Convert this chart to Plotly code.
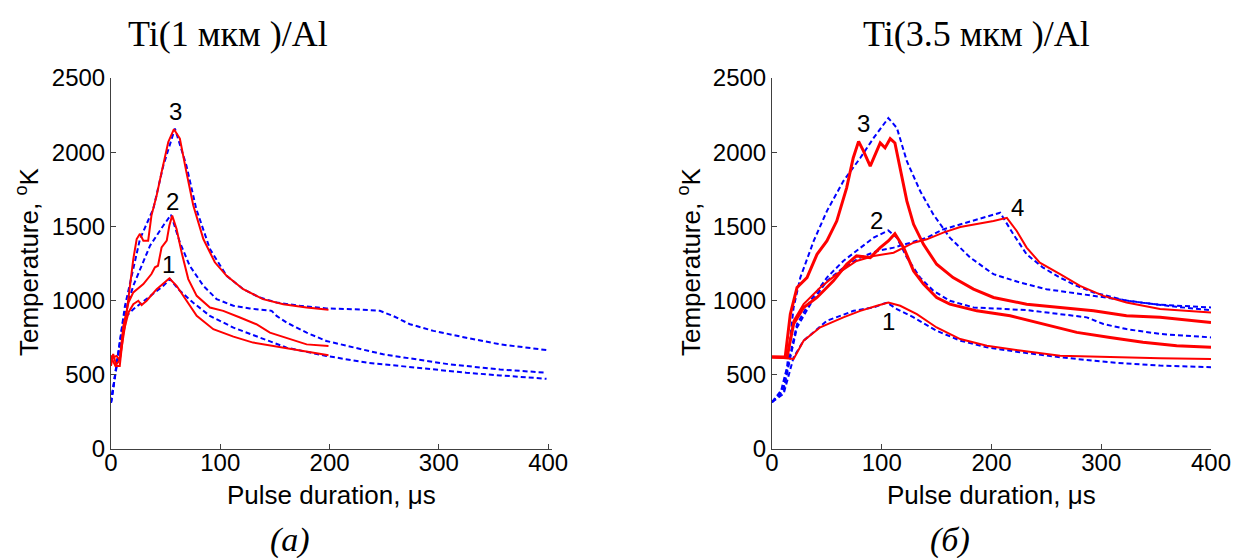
import plotly.graph_objects as go

# ---------------- Panel (a): Ti(1 мкм)/Al ----------------
a_b3_x = [0, 12.8, 26.5, 38.7, 47.9, 58.5, 69, 78, 90.5, 105.8, 121, 136, 151.5, 173, 197, 221.6, 246, 258, 273.5, 295, 325, 356, 398.5]
a_b3_y = [311, 965, 1415, 1618, 1910, 2160, 1910, 1618, 1348, 1167, 1077, 1021, 987, 965, 947, 942, 931, 897, 841, 796, 750, 705, 667]
a_b2_x = [0, 12.8, 20.4, 35.7, 47.9, 54.9, 63, 72, 84.5, 96.6, 112, 127, 147, 151.5, 160.7, 179, 197, 221.6, 249, 279.6, 310, 356, 398.5]
a_b2_y = [311, 920, 1100, 1370, 1506, 1578, 1393, 1235, 1100, 1010, 965, 947, 931, 897, 852, 784, 728, 683, 638, 604, 570, 536, 514]
a_b1_x = [0, 11.3, 20.4, 35.7, 47.9, 54, 63, 75, 90.5, 112, 136, 160.7, 197, 234, 279.6, 325, 356, 398.5]
a_b1_y = [311, 875, 942, 1032, 1100, 1145, 1066, 987, 897, 818, 750, 683, 627, 582, 548, 514, 496, 473]

a_r3_x = [0, 3, 5, 8, 12.8, 17.4, 20.4, 23.5, 26.5, 29.6, 34, 37, 41.8, 46.3, 52.4, 57.6, 63, 69, 75.3, 84.5, 95, 105.8, 121, 139, 157.6, 179, 199]
a_r3_y = [627, 620, 627, 600, 830, 1100, 1280, 1415, 1450, 1404, 1404, 1573, 1709, 1866, 2069, 2155, 2092, 1866, 1641, 1415, 1258, 1167, 1077, 1010, 976, 953, 938]
a_r2_x = [0, 4, 8, 11.3, 16, 20.4, 29.6, 37, 40.2, 43, 46.3, 51, 53.4, 56, 60, 64.6, 70.7, 78.4, 90.5, 102.7, 118, 133, 145.4, 160.7, 179, 199]
a_r2_y = [620, 560, 600, 830, 987, 1055, 1111, 1179, 1224, 1235, 1359, 1404, 1506, 1573, 1483, 1325, 1145, 1032, 953, 931, 886, 841, 784, 750, 705, 694]
a_r1_x = [0, 2, 5, 8, 11.3, 16, 20.4, 25, 28, 32.6, 41.8, 49.4, 53.4, 60, 69, 78.4, 93.6, 112, 130, 148.5, 173, 199]
a_r1_y = [560, 640, 560, 560, 784, 920, 976, 999, 970, 999, 1077, 1122, 1150, 1100, 999, 897, 807, 757, 717, 694, 660, 631]

# ---------------- Panel (б): Ti(3.5 мкм)/Al ----------------
b_b3_x = [0, 7.6, 13.7, 19.7, 25.8, 38, 50, 65, 80.4, 92.6, 106, 113.8, 122.9, 135, 147, 162, 180.6, 201.8, 226, 250, 277.7, 308, 338, 368.7, 400]
b_b3_y = [316, 372, 551, 954, 1155, 1402, 1603, 1805, 1961, 2096, 2230, 2163, 1939, 1738, 1581, 1424, 1290, 1178, 1122, 1077, 1048, 1015, 985, 958, 936]
b_b4_x = [0, 10.6, 16.7, 22.8, 35, 50, 65, 80.4, 95.6, 110.8, 126, 141, 156, 171.5, 186.6, 201.8, 207.9, 220, 232, 247, 262.5, 277.7, 293, 323, 353.6, 400]
b_b4_y = [316, 394, 618, 819, 976, 1133, 1222, 1290, 1334, 1357, 1390, 1424, 1480, 1514, 1547, 1581, 1592, 1446, 1312, 1222, 1155, 1099, 1055, 999, 972, 954]
b_b2_x = [0, 10.6, 16.7, 22.8, 35, 50, 65, 80.4, 92.6, 106, 113.8, 122.9, 135, 147, 162, 183.6, 207.9, 232, 262.5, 286.8, 302, 323, 353.6, 400]
b_b2_y = [316, 416, 640, 842, 999, 1155, 1267, 1357, 1424, 1473, 1424, 1290, 1155, 1066, 999, 954, 943, 936, 909, 887, 842, 808, 775, 752]
b_b1_x = [0, 10.6, 19.7, 28.8, 50, 74.4, 92.6, 104.7, 113.8, 129, 150, 171.5, 195.8, 226, 262.5, 308, 353.6, 400]
b_b1_y = [316, 372, 618, 730, 864, 931, 954, 987, 943, 887, 797, 730, 685, 652, 618, 584, 562, 551]

b_r1_x = [0, 19.7, 28.8, 44, 65, 80.4, 95.6, 106, 116.8, 132, 150, 171.5, 195.8, 226, 262.5, 308, 353.6, 400]
b_r1_y = [620, 607, 730, 820, 887, 931, 965, 987, 965, 909, 819, 741, 696, 663, 629, 618, 611, 607]
b_r2_x = [0, 13.7, 19.7, 28.8, 41, 56, 68, 77, 89.5, 98.6, 106, 112, 120, 129, 138, 150, 162, 186.6, 217, 247, 277.7, 308, 338, 368.7, 400]
b_r2_y = [620, 618, 842, 954, 1021, 1133, 1245, 1301, 1290, 1357, 1402, 1451, 1357, 1200, 1111, 1021, 976, 931, 898, 842, 786, 752, 719, 696, 685]
b_r4_x = [0, 13.7, 19.7, 28.8, 44, 59, 77, 92.6, 110.8, 129, 141, 156, 171.5, 186.6, 201.8, 214, 223, 232, 244, 262.5, 280.7, 302, 323, 353.6, 400]
b_r4_y = [620, 618, 864, 976, 1088, 1178, 1267, 1301, 1323, 1390, 1413, 1458, 1496, 1514, 1536, 1558, 1469, 1357, 1256, 1178, 1099, 1032, 987, 943, 920]
b_r3_x = [0, 12, 16.7, 22.8, 31.9, 41, 50, 59, 68, 74, 78.9, 83.5, 89.5, 94, 98.6, 103, 107.7, 112, 116.8, 122.9, 129, 138, 150, 165, 183.6, 201.8, 232, 262.5, 293, 323, 353.6, 400]
b_r3_y = [620, 618, 909, 1088, 1155, 1312, 1402, 1536, 1760, 1961, 2073, 2006, 1906, 1984, 2062, 2029, 2091, 2062, 1894, 1670, 1514, 1379, 1245, 1155, 1077, 1021, 976, 954, 931, 898, 887, 853]

# curve number labels (x, y, text)
a_labels = [(58.7, 2276, "3"), (56.6, 1665, "2"), (53, 1242, "1")]
b_labels = [(83.8, 2195, "3"), (95.4, 1543, "2"), (106, 858, "1"), (223.8, 1629, "4")]

y_ticks = [0, 500, 1000, 1500, 2000, 2500]
x_ticks = [0, 100, 200, 300, 400]

titles = ["Ti(1 мкм )/Al", "Ti(3.5 мкм )/Al"]
panel_tags = ["(а)", "(б)"]
x_title = "Pulse duration, μs"
y_title = "Temperature, <sup>o</sup>K"

BLUE = "#0000ff"
RED = "#ff0000"

fig = go.Figure()

def add_blue(x, y, xa, ya):
    fig.add_trace(go.Scatter(x=x, y=y, mode="lines", xaxis=xa, yaxis=ya,
                             line=dict(color=BLUE, width=2, dash="5px,3px"),
                             showlegend=False, hoverinfo="skip"))

def add_red(x, y, xa, ya, w=2):
    fig.add_trace(go.Scatter(x=x, y=y, mode="lines", xaxis=xa, yaxis=ya,
                             line=dict(color=RED, width=w),
                             showlegend=False, hoverinfo="skip"))

for x, y in [(a_b3_x, a_b3_y), (a_b2_x, a_b2_y), (a_b1_x, a_b1_y)]:
    add_blue(x, y, "x", "y")
for x, y in [(a_r3_x, a_r3_y), (a_r2_x, a_r2_y), (a_r1_x, a_r1_y)]:
    add_red(x, y, "x", "y")

for x, y in [(b_b3_x, b_b3_y), (b_b4_x, b_b4_y), (b_b2_x, b_b2_y), (b_b1_x, b_b1_y)]:
    add_blue(x, y, "x2", "y2")
add_red(b_r1_x, b_r1_y, "x2", "y2", 2)
add_red(b_r2_x, b_r2_y, "x2", "y2", 3)
add_red(b_r4_x, b_r4_y, "x2", "y2", 2)
add_red(b_r3_x, b_r3_y, "x2", "y2", 3)

W, H = 1234, 558
def px(v):
    return v / W
def py(v):
    return 1 - v / H

ydom = [py(449), py(78)]
tick_font = dict(family="Liberation Sans, Arial", size=24, color="black")
axis_common = dict(showgrid=False, zeroline=False, showline=True, linecolor="#404040",
                   linewidth=1, ticks="inside", ticklen=5, tickcolor="#404040",
                   tickfont=tick_font, automargin=False, fixedrange=True)

fig.update_layout(
    width=W, height=H, margin=dict(l=0, r=0, t=0, b=0, pad=0, autoexpand=False),
    paper_bgcolor="white", plot_bgcolor="white", hovermode=False,
    xaxis=dict(domain=[px(111), px(552)], range=[0, 403.5], tickvals=x_ticks, anchor="y",
               ticklabelstandoff=-8, **axis_common),
    yaxis=dict(domain=ydom, range=[0, 2500], tickvals=y_ticks, anchor="x", **axis_common),
    xaxis2=dict(domain=[px(772), px(1211)], range=[0, 400], tickvals=x_ticks, anchor="y2",
                ticklabelstandoff=-8, **axis_common),
    yaxis2=dict(domain=ydom, range=[0, 2500], tickvals=y_ticks, anchor="x2", **axis_common),
)

ann = []
lab_font = dict(family="Liberation Sans, Arial", size=24, color="black")
for (x, y, t) in a_labels:
    ann.append(dict(x=x, y=y, xref="x", yref="y", text=t, showarrow=False, font=lab_font,
                    xanchor="center", yanchor="middle"))
for (x, y, t) in b_labels:
    ann.append(dict(x=x, y=y, xref="x2", yref="y2", text=t, showarrow=False, font=lab_font,
                    xanchor="center", yanchor="middle"))

def paper_ann(x, y, text, font, angle=0):
    return dict(x=px(x), y=py(y), xref="paper", yref="paper", text=text, showarrow=False,
                font=font, textangle=angle, xanchor="center", yanchor="middle")

title_font = dict(family="Liberation Serif, Times New Roman", size=36, color="black")
ann.append(paper_ann(228, 34, titles[0], title_font))
ann.append(paper_ann(976, 34, titles[1], title_font))

axt_font = dict(family="Liberation Sans, Arial", size=26, color="black")
ann.append(paper_ann(331, 495, x_title, axt_font))
ann.append(paper_ann(991, 495, x_title, axt_font))
ann.append(paper_ann(27, 262, y_title, axt_font, -90))
ann.append(paper_ann(689, 262, y_title, axt_font, -90))

tag_font = dict(family="Liberation Serif, Times New Roman", size=34, color="black")
ann.append(paper_ann(290, 540, "<i>" + panel_tags[0] + "</i>", tag_font))
ann.append(paper_ann(950, 540, "<i>" + panel_tags[1] + "</i>", tag_font))

fig.update_layout(annotations=ann)
fig.write_html("out.html", config={"displayModeBar": False},
               post_script="document.body.style.margin='0px';document.body.style.overflow='hidden';")
